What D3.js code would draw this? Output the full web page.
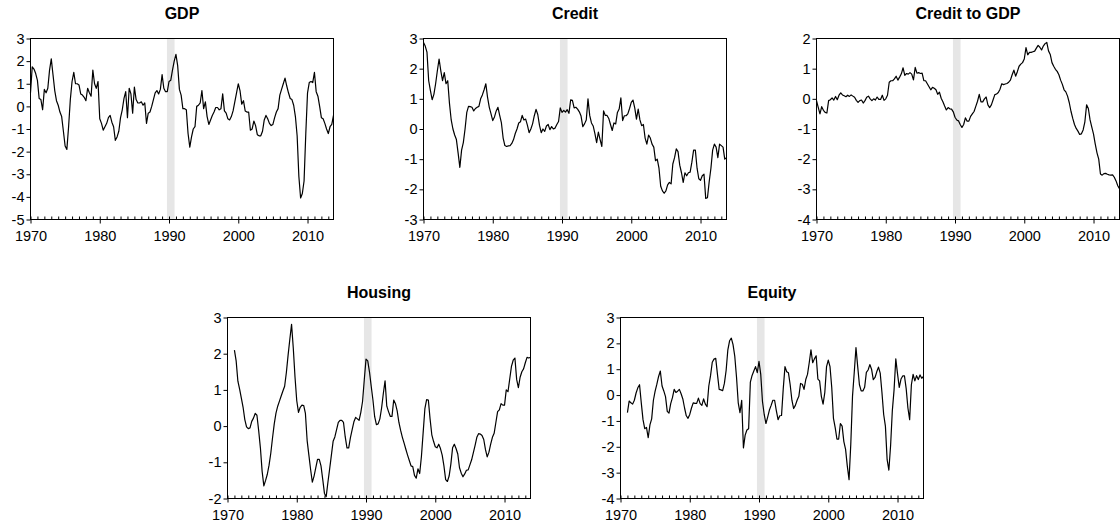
<!DOCTYPE html>
<html>
<head>
<meta charset="utf-8">
<script src="https://cdn.jsdelivr.net/npm/d3@7"></script>
<style>
  body { margin: 0; background: #fff; }
  text { font-family: "Liberation Sans", Arial, Helvetica, sans-serif; }
</style>
</head>
<body>
<div id="vis"></div>
<script>
// Quarterly series, one row per year (Q1..Q4)
let gdp = [
  0.6, 1.75, 1.65, 1.45,    // 1970
  1.15, 0.35, 0.3, -0.15,
  0.75, 0.6, 0.8, 1.6,
  2.1, 1.4, 0.7, 0.25,
  0.05, -0.25, -0.45, -1.1,
  -1.75, -1.9, -0.9, 0.3,   // 1975
  1.1, 1.5, 1.0, 1.0,
  0.95, 0.55, 0.5, 0.4,
  0.25, 0.8, 0.6, 0.45,
  1.6, 1.0, 0.8, 1.1,
  -0.55, -0.75, -1.05, -0.9, // 1980
  -0.75, -0.5, -0.4, -0.7,
  -0.9, -1.5, -1.35, -1.1,
  -0.5, -0.15, 0.35, 0.65,
  -0.5, 0.8, 0.55, -0.3,
  0.85, 0.3, 0.15, 0.15,    // 1985
  0.2, 0.05, 0.15, -0.75,
  -0.3, -0.25, 0.0, 0.3,
  0.6, 0.7, 0.55, 0.75,
  1.4, 0.8, 0.65, 0.65,
  1.1, 1.15, 1.6, 2.0,      // 1990
  2.3, 1.8, 0.75, 0.5,
  -0.1, -0.1, -0.15, -1.2,
  -1.8, -1.35, -1.0, -0.9,
  0.0, 0.05, 0.15, 0.7,
  -0.1, 0.2, -0.45, -0.8,   // 1995
  -0.6, -0.4, -0.25, -0.05,
  -0.05, -0.15, -0.1, 0.55,
  -0.2, -0.3, -0.55, -0.6,
  -0.45, -0.2, 0.2, 0.6,
  1.0, 0.7, 0.1, 0.25,      // 2000
  -0.2, -0.25, -0.25, -1.05,
  -1.0, -0.65, -0.85, -1.25,
  -1.3, -1.3, -1.1, -0.6,
  -0.4, -0.55, -0.75, -0.85,
  -0.8, -0.5, -0.25, -0.1,  // 2005
  0.5, 0.75, 1.0, 1.25,
  0.9, 0.6, 0.35, 0.3,
  0.05, -0.45, -1.3, -3.1,
  -4.05, -3.85, -3.3, -1.2,
  0.6, 1.05, 1.1, 1.05,     // 2010
  1.5, 0.65, 0.45, 0.0,
  -0.5, -0.55, -0.75, -1.0,
  -1.2, -0.9, -0.8, -0.4
];

let credit = [
  2.87, 2.75, 2.55, 1.6,    // 1970
  1.27, 0.97, 1.15, 1.5,
  1.93, 2.32, 1.93, 1.6,
  1.87, 1.5, 1.6, 0.85,
  0.3, 0.0, -0.2, -0.35,
  -0.8, -1.27, -0.7, -0.45, // 1975
  0.0, 0.55, 0.75, 0.74,
  0.72, 0.6, 0.68, 0.72,
  0.75, 1.0, 1.13, 1.3,
  1.5, 1.05, 0.72, 0.5,
  0.28, 0.4, 0.6, 0.72,     // 1980
  0.45, 0.2, -0.3, -0.55,
  -0.58, -0.56, -0.55, -0.48,
  -0.35, -0.15, 0.0, 0.2,
  0.24, 0.45, 0.3, 0.33,
  0.13, -0.12, 0.0, 0.17,   // 1985
  0.44, 0.65, 0.48, 0.12,
  -0.12, 0.0, -0.08, 0.1,
  0.15, -0.02, 0.08, 0.0,
  0.03, 0.15, 0.25, 0.7,
  0.55, 0.62, 0.56, 0.64,   // 1990
  0.52, 0.97, 0.95, 0.7,
  0.72, 0.66, 0.57, 0.43,
  0.08, 0.17, 0.3, 1.0,
  0.45, 0.2, 0.1, -0.15,
  -0.45, -0.1, -0.35, -0.58, // 1995
  0.6, 0.45, 0.45, 0.35,
  0.15, -0.05, 0.2, 0.17,
  0.55, 0.66, 1.03, 0.28,
  0.44, 0.44, 0.5, 0.68,
  0.88, 0.96, 0.7, 0.33,    // 2000
  0.66, 0.3, 0.11, 0.15,
  -0.3, -0.5, -0.2, -0.3,
  -0.5, -0.6, -1.05, -1.0,
  -1.3, -1.9, -2.05, -2.13,
  -2.05, -1.85, -1.77, -1.82, // 2005
  -1.16, -0.95, -0.66, -0.75,
  -1.2, -1.45, -1.77, -1.45,
  -1.55, -1.45, -1.43, -1.1,
  -0.7, -0.7, -1.3, -1.65,
  -1.7, -1.55, -1.5, -2.3,  // 2010
  -2.28, -1.75, -1.3, -0.7,
  -0.5, -0.6, -0.95, -0.5,
  -0.55, -0.6, -1.0, -0.95
];

let creditToGdp = [
  -0.06, -0.28, -0.5, -0.26, // 1970
  -0.38, -0.45, -0.47, -0.06,
  -0.03, 0.03, -0.04, 0.08,
  -0.03, 0.12, 0.2, 0.13,
  0.1, 0.07, 0.12, 0.08,
  0.13, 0.09, 0.05, -0.05,  // 1975
  -0.12, -0.06, -0.04, -0.14,
  -0.06, 0.05, 0.09, 0.0,
  -0.06, 0.0, -0.04, 0.06,
  -0.02, -0.02, 0.12, -0.05,
  0.0, 0.12, 0.55, 0.6,     // 1980
  0.6, 0.66, 0.75, 0.62,
  0.72, 0.83, 1.03, 0.78,
  0.84, 0.82, 0.87, 0.82,
  0.63, 1.04, 0.85, 0.87,
  0.84, 0.85, 0.6, 0.6,     // 1985
  0.5, 0.4, 0.3, 0.38,
  0.35, 0.3, 0.15, 0.22,
  0.02, -0.1, -0.24, -0.37,
  -0.29, -0.33, -0.34, -0.43,
  -0.61, -0.7, -0.73, -0.85, // 1990
  -0.95, -0.85, -0.63, -0.74,
  -0.74, -0.58, -0.5, -0.42,
  -0.25, -0.08, 0.15, -0.1,
  -0.1, 0.0, 0.06, -0.2,
  -0.29, -0.2, -0.03, 0.14, // 1995
  0.16, 0.21, 0.32, 0.5,
  0.47, 0.49, 0.51, 0.55,
  0.62, 0.8, 0.95, 0.75,
  0.9, 1.08, 1.15, 1.2,
  1.32, 1.7, 1.46, 1.54,    // 2000
  1.54, 1.56, 1.58, 1.68,
  1.77, 1.71, 1.62, 1.75,
  1.83, 1.87, 1.59, 1.47,
  1.2, 1.08, 0.98, 0.91,
  0.8, 0.62, 0.48, 0.3,     // 2005
  0.23, 0.09, -0.13, -0.42,
  -0.65, -0.85, -0.98, -1.07,
  -1.18, -1.16, -1.03, -0.76,
  -0.2, -0.32, -0.7, -0.94,
  -1.17, -1.5, -1.79, -2.0, // 2010
  -2.49, -2.53, -2.48, -2.47,
  -2.5, -2.52, -2.53, -2.52,
  -2.6, -2.72, -2.88, -2.98
];

// housing and equity start in 1971
let housing = [
  2.1, 1.8, 1.24, 1.02,     // 1971
  0.77, 0.52, 0.18, -0.02,
  -0.07, -0.05, 0.13, 0.22,
  0.35, 0.3, -0.12, -0.6,
  -1.25, -1.65, -1.5, -1.33, // 1975
  -1.08, -0.75, -0.33, 0.06,
  0.36, 0.55, 0.69, 0.83,
  0.97, 1.1, 1.48, 1.96,
  2.4, 2.81, 2.15, 1.35,
  0.7, 0.38, 0.52, 0.58,    // 1980
  0.57, 0.35, -0.4, -0.8,
  -1.2, -1.55, -1.38, -1.15,
  -0.92, -0.92, -1.1, -1.47,
  -1.86, -1.95, -1.55, -1.18,
  -0.8, -0.42, -0.3, -0.1,  // 1985
  0.1, 0.16, 0.16, 0.1,
  -0.3, -0.6, -0.6, -0.32,
  -0.1, 0.12, 0.24, 0.2,
  0.16, 0.38, 0.68, 1.28,
  1.85, 1.8, 1.5, 1.1,      // 1990
  0.72, 0.26, 0.04, 0.06,
  0.2, 0.5, 0.9, 1.25,
  0.55, 0.4, 0.27, 0.27,
  0.72, 0.62, 0.42, 0.1,
  -0.12, -0.31, -0.47, -0.64, // 1995
  -0.8, -0.95, -1.1, -1.12,
  -1.36, -1.44, -1.18, -1.31,
  -0.84, -0.18, 0.48, 0.73,
  0.72, 0.2, -0.24, -0.42,
  -0.57, -0.6, -0.5, -0.62, // 2000
  -0.8, -1.1, -1.48, -1.53,
  -1.38, -1.05, -0.6, -0.5,
  -0.62, -0.77, -1.15, -1.3,
  -1.4, -1.32, -1.22, -1.21,
  -1.07, -0.93, -0.73, -0.53, // 2005
  -0.31, -0.21, -0.22, -0.26,
  -0.37, -0.65, -0.85, -0.72,
  -0.5, -0.31, -0.2, 0.1,
  0.4, 0.45, 0.62, 0.58,
  0.58, 1.0, 0.95, 1.3,     // 2010
  1.65, 1.82, 1.88, 1.29,
  1.06, 1.35, 1.5, 1.58,
  1.75, 1.9, 1.88, 1.9
];

let equity = [
  -0.68, -0.23, -0.3, -0.35, // 1971
  -0.2, 0.08, 0.28, 0.4,
  -0.3, -0.95, -1.3, -1.25,
  -1.65, -1.15, -0.92, -0.2,
  0.15, 0.42, 0.72, 0.93,   // 1975
  0.35, 0.16, -0.06, -0.63,
  -0.7, -0.33, -0.1, 0.22,
  0.1, 0.15, 0.22, 0.05,
  -0.15, -0.5, -0.8, -0.9,
  -0.75, -0.5, -0.3, -0.32, // 1980
  -0.32, -0.12, -0.33, -0.4,
  -0.15, -0.35, -0.45, 0.35,
  0.75, 1.27, 1.39, 1.42,
  0.8, 0.22, 0.2, 0.17,
  0.45, 0.95, 1.75, 2.1,    // 1985
  2.2, 1.95, 1.5, 0.7,
  -0.3, -0.68, -0.2, -2.04,
  -1.55, -1.35, -1.3, 0.5,
  0.76, 0.93, 1.1, 0.87,
  1.3, 0.8, -0.25, -0.75,   // 1990
  -1.1, -0.85, -0.58, -0.4,
  -0.2, -0.2, -0.6, -0.95,
  -0.8, -0.79, 0.25, 1.1,
  0.9, 0.86, 0.4, -0.2,
  -0.52, -0.4, -0.2, -0.05, // 1995
  0.45, 0.42, 0.22, 0.6,
  0.8, 1.25, 1.75, 1.25,
  1.4, 1.52, 0.62, 0.55,
  -0.05, -0.35, 0.1, 1.1,
  1.35, 1.1, 0.3, -0.9,     // 2000
  -1.26, -1.7, -1.7, -1.1,
  -1.2, -1.8, -2.1, -2.75,
  -3.27, -1.9, -0.04, 0.87,
  1.84, 1.1, 0.4, 0.16,
  0.16, 0.3, 0.88, 0.97,    // 2005
  1.18, 1.0, 0.6, 0.68,
  0.9, 1.08, 0.85, 0.1,
  -0.75, -1.2, -2.5, -2.9,
  -1.95, -0.6, 0.2, 1.4,
  0.82, 0.3, 0.62, 0.74,    // 2010
  0.74, 0.25, -0.5, -0.95,
  0.4, 0.8, 0.55, 0.75,
  0.6, 0.78, 0.65, 0.72
];

let titles = ['GDP', 'Credit', 'Credit to GDP', 'Housing', 'Equity'];
let startYears = [1970, 1970, 1970, 1971, 1971];
let yDomains = [[-5, 3], [-3, 3], [-4, 2], [-2, 3], [-4, 3]];
let decadeTicks = [1970, 1980, 1990, 2000, 2010];
let shadedPeriod = [1989.7, 1990.8];
let series = [gdp, credit, creditToGdp, housing, equity];

// Layout
let width = 1120,
  height = 528;
let panelW = 303,
  panelH = 181;
let panelPos = [[30, 38], [423, 38], [816, 38], [227, 317], [620, 317]];

let svg = d3.select('#vis')
  .append('svg')
  .attr('width', width)
  .attr('height', height);

let xScale = d3.scaleLinear()
  .domain([1970, 2013.75])
  .range([0, panelW]);

series.forEach(function(values, i) {
  let pts = values.map(function(v, k) {
    return { t: startYears[i] + k / 4, v: v };
  });

  let yScale = d3.scaleLinear()
    .domain(yDomains[i])
    .range([panelH, 0]);

  let g = svg.append('g')
    .attr('transform', `translate(${panelPos[i][0] + 0.5},${panelPos[i][1] + 0.5})`);

  // shaded band
  g.append('rect')
    .attr('x', xScale(shadedPeriod[0]))
    .attr('y', 0)
    .attr('width', xScale(shadedPeriod[1]) - xScale(shadedPeriod[0]))
    .attr('height', panelH)
    .attr('fill', '#e6e6e6');

  // line
  let line = d3.line()
    .x(function(d) { return xScale(d.t); })
    .y(function(d) { return yScale(d.v); });

  g.append('path')
    .datum(pts)
    .attr('d', line)
    .attr('fill', 'none')
    .attr('stroke', '#000')
    .attr('stroke-width', 1.2)
    .attr('stroke-linejoin', 'round');

  //Draw axes
  let yAxis = g.append('g')
    .call(d3.axisLeft(yScale)
      .tickValues(d3.range(yDomains[i][0], yDomains[i][1] + 1))
      .tickSize(4)
      .tickSizeOuter(0)
      .tickPadding(2)
      .tickFormat(function(d) { return String(d); }));

  let xAxis = g.append('g')
    .attr('transform', `translate(0,${panelH})`)
    .call(d3.axisBottom(xScale)
      .tickValues(decadeTicks)
      .tickSize(4)
      .tickSizeOuter(0)
      .tickPadding(7)
      .tickFormat(function(d) { return String(d); }));

  // yearly minor ticks, pointing inward
  let minor = g.append('g')
    .attr('transform', `translate(0,${panelH})`)
    .call(d3.axisBottom(xScale)
      .tickValues(d3.range(1970, 2014))
      .tickSize(-3)
      .tickSizeOuter(0)
      .tickFormat(''));

  [yAxis, xAxis, minor].forEach(function(ax) {
    ax.select('.domain').remove();
    ax.attr('font-size', 14.5)
      .attr('font-family', '"Liberation Sans", Arial, Helvetica, sans-serif');
    ax.selectAll('text').attr('fill', '#000');
  });

  // frame
  g.append('rect')
    .attr('width', panelW)
    .attr('height', panelH)
    .attr('fill', 'none')
    .attr('stroke', '#000')
    .attr('stroke-width', 1);

  // title
  g.append('text')
    .attr('x', panelW / 2)
    .attr('y', -20)
    .attr('text-anchor', 'middle')
    .attr('font-size', 16)
    .attr('font-weight', 'bold')
    .text(titles[i]);
});
</script>
</body>
</html>
